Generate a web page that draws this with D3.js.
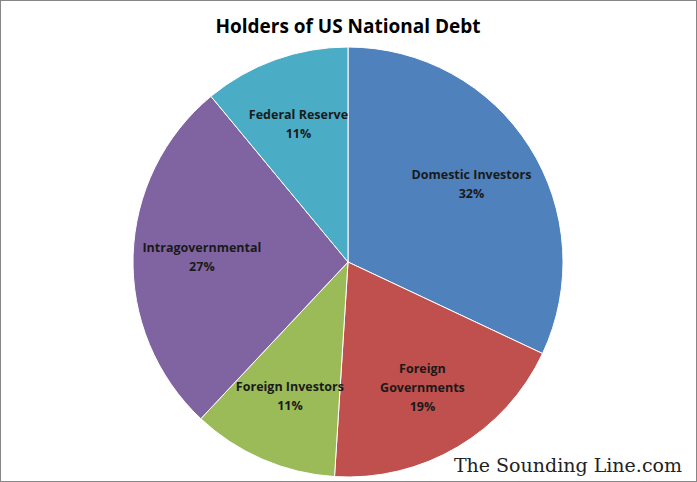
<!DOCTYPE html>
<html><head><meta charset="utf-8">
<script src="https://cdn.jsdelivr.net/npm/d3@7"></script>
<style>body{margin:0;background:#fff}</style>
</head><body><div id="chart"></div>
<script>
const categories = ["Domestic Investors", "Foreign Governments", "Foreign Investors", "Intragovernmental", "Federal Reserve"];
const values = [32, 19, 11, 27, 11];
const labelLines = [["Domestic Investors"], ["Foreign", "Governments"], ["Foreign Investors"], ["Intragovernmental"], ["Federal Reserve"]];
const colors = ["#4F81BD", "#C0504D", "#9BBB59", "#8064A2", "#4BACC6"];

const width = 697, height = 482;
const cx = 348, cy = 262, radius = 215;

const svg = d3.select("#chart").append("svg")
    .attr("width", width).attr("height", height);

svg.append("rect").attr("x", 0.5).attr("y", 0.5)
    .attr("width", width - 1).attr("height", height - 1)
    .attr("fill", "#fff").attr("stroke", "#868686");

svg.append("text").attr("x", 348).attr("y", 33)
    .attr("text-anchor", "middle")
    .attr("font-family", "Open Sans, sans-serif").attr("font-weight", "bold")
    .attr("font-size", 19).text("Holders of US National Debt");

const pie = d3.pie().sort(null).value(d => d);
const arcs = pie(values);
const arc = d3.arc().innerRadius(0).outerRadius(radius);
const labelArc = d3.arc().innerRadius(radius * 0.68).outerRadius(radius * 0.68);

const g = svg.append("g").attr("transform", `translate(${cx},${cy})`);

g.selectAll("path").data(arcs).join("path")
    .attr("d", arc)
    .attr("fill", (d, i) => colors[i])
    .attr("stroke", "#fff").attr("stroke-width", 1);

const labels = g.selectAll("text.lbl").data(arcs).join("text")
    .attr("class", "lbl")
    .attr("text-anchor", "middle")
    .attr("font-family", "Open Sans, sans-serif").attr("font-weight", "bold")
    .attr("font-size", 12.5).attr("fill", "#1a1a1a")
    .attr("transform", d => {
        const [x, y] = labelArc.centroid(d);
        return `translate(${x},${y})`;
    });

labels.each(function(d, i) {
    const lines = labelLines[i].concat([values[i] + "%"]);
    const t = d3.select(this);
    const off = -(lines.length - 1) * 19 / 2;
    lines.forEach((l, j) => {
        t.append("tspan").attr("x", 0).attr("y", off + j * 19).attr("dy", "0.35em").text(l);
    });
});

svg.append("text").attr("x", 682).attr("y", 472)
    .attr("text-anchor", "end")
    .attr("font-family", "DejaVu Serif, serif")
    .attr("font-size", 19).attr("fill", "#222")
    .text("The Sounding Line.com");
</script>
</body></html>
